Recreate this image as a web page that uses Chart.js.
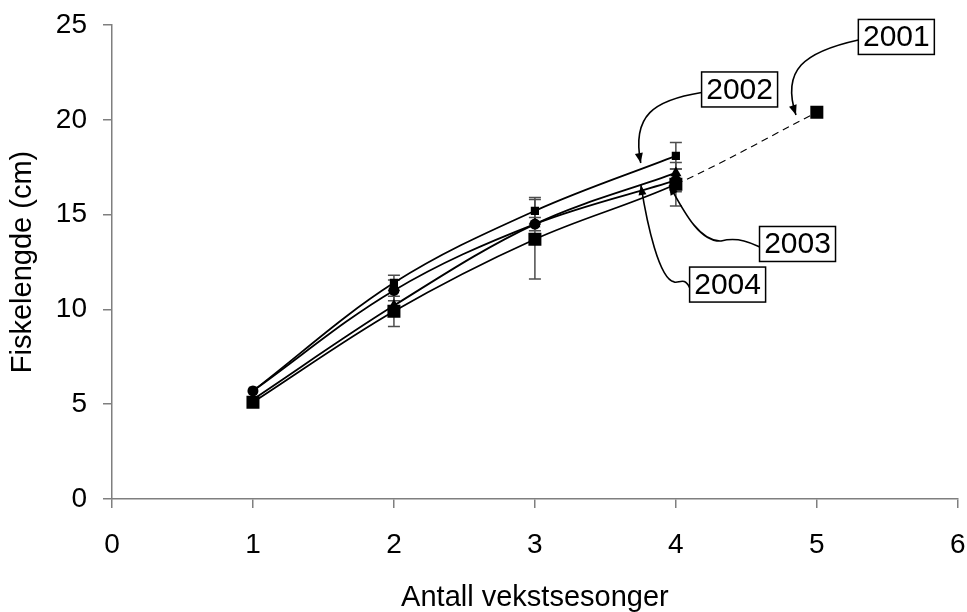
<!DOCTYPE html>
<html>
<head>
<meta charset="utf-8">
<script src="https://cdn.jsdelivr.net/npm/chart.js@4/dist/chart.umd.min.js"></script>
<style>
    html, body { margin: 0; padding: 0; background: #fff; }
    #wrap { width: 967px; height: 612px; }
</style>
</head>
<body>
<div id="wrap"><canvas id="chartGrowth" width="967" height="612"></canvas></div>
<script>
// fish length (cm) after each growing season, one array per year class
const seasons = [1, 2, 3, 4, 5];
const len2001 = [5.1, 9.9, 13.7, 16.6, 20.4];
const err2001 = [0, 0.8, 2.1, 1.15, 0];
const len2002 = [5.7, 11.4, 15.2, 18.1];
const err2002 = [0, 0.4, 0.7, 0.7];
const len2003 = [5.25, 10.2, 14.5, 17.2];
const err2003 = [0, 0, 0, 0];
const len2004 = [5.7, 11.0, 14.5, 16.8];
const err2004 = [0, 0.55, 0.35, 0.6];

const FONT = '"Liberation Sans", Arial, sans-serif';

const points = (vals) => vals.map((v, i) => ({x: seasons[i], y: v}));

const base = {
    borderColor: '#000',
    backgroundColor: '#000',
    borderWidth: 1.8,
    pointBorderColor: '#000',
    pointBackgroundColor: '#000',
    pointBorderWidth: 0,
    tension: 0.35,
    fill: false,
};

// arrow labels, positioned in data units so the tips land on the lines
const yearNotes = [
    {text: '2001', box: [5.564, 24.37], segs: [[[4.909, 23.58], [4.746, 22.63], [4.852, 20.25]]]},
    {text: '2002', box: [4.452, 21.60], segs: [[[3.846, 21.04], [3.684, 20.25], [3.751, 17.72]]]},
    {text: '2003', box: [4.863, 13.45], segs: [
        [[4.55, 13.45], [4.45, 13.85], [4.321, 13.61]],
        [[4.165, 13.55], [4.052, 15.24], [3.953, 16.56]]]},
    {text: '2004', box: [4.367, 11.31], segs: [
        [[4.06, 11.75], [4.02, 11.35], [3.988, 11.45]],
        [[3.882, 11.60], [3.797, 14.45], [3.752, 16.56]]]},
];

const errorBars = {
    id: 'errorBars',
    beforeDatasetsDraw(chart) {
        const {ctx, scales: {x, y}} = chart;
        ctx.save();
        ctx.strokeStyle = '#4d4d4d';
        ctx.lineWidth = 1.5;
        chart.data.datasets.forEach(ds => {
            (ds.errors || []).forEach((e, i) => {
                if (!e) return;
                const px = x.getPixelForValue(ds.data[i].x);
                const top = y.getPixelForValue(ds.data[i].y + e);
                const bot = y.getPixelForValue(ds.data[i].y - e);
                ctx.beginPath();
                ctx.moveTo(px, top); ctx.lineTo(px, bot);
                ctx.moveTo(px - 6, top); ctx.lineTo(px + 6, top);
                ctx.moveTo(px - 6, bot); ctx.lineTo(px + 6, bot);
                ctx.stroke();
            });
        });
        ctx.restore();
    }
};

const yearLabels = {
    id: 'yearLabels',
    afterDraw(chart) {
        const {ctx, scales: {x, y}} = chart;
        const P = (p) => [x.getPixelForValue(p[0]), y.getPixelForValue(p[1])];
        const w = 76, h = 35;
        ctx.save();
        yearNotes.forEach(n => {
            const [cx, cy] = P(n.box);
            // curved leader
            ctx.strokeStyle = '#000';
            ctx.lineWidth = 1.6;
            ctx.beginPath();
            ctx.moveTo(cx - w / 2, cy + 3);
            let prev = null, tip = null;
            n.segs.forEach(s => {
                const a = P(s[0]), b = P(s[1]), c = P(s[2]);
                ctx.bezierCurveTo(a[0], a[1], b[0], b[1], c[0], c[1]);
                prev = b; tip = c;
            });
            ctx.stroke();
            // arrow head
            const ang = Math.atan2(tip[1] - prev[1], tip[0] - prev[0]);
            ctx.fillStyle = '#000';
            ctx.beginPath();
            ctx.moveTo(tip[0], tip[1]);
            ctx.lineTo(tip[0] - 10 * Math.cos(ang) + 4 * Math.sin(ang), tip[1] - 10 * Math.sin(ang) - 4 * Math.cos(ang));
            ctx.lineTo(tip[0] - 10 * Math.cos(ang) - 4 * Math.sin(ang), tip[1] - 10 * Math.sin(ang) + 4 * Math.cos(ang));
            ctx.closePath();
            ctx.fill();
            // box + text
            ctx.fillStyle = '#fff';
            ctx.fillRect(cx - w / 2, cy - h / 2, w, h);
            ctx.strokeStyle = '#000';
            ctx.lineWidth = 1.5;
            ctx.strokeRect(cx - w / 2, cy - h / 2, w, h);
            ctx.fillStyle = '#000';
            ctx.font = '30px ' + FONT;
            ctx.textAlign = 'center';
            ctx.textBaseline = 'middle';
            ctx.fillText(n.text, cx, cy + 1);
        });
        ctx.restore();
    }
};

const data = {
    datasets: [
        {
            ...base,
            label: '2002',
            data: points(len2002),
            errors: err2002,
            pointStyle: 'rect',
            pointRadius: 5.8,
        },
        {
            ...base,
            label: '2003',
            data: points(len2003),
            errors: err2003,
            pointStyle: 'triangle',
            pointRadius: 6.5,
        },
        {
            ...base,
            label: '2004',
            data: points(len2004),
            errors: err2004,
            pointStyle: 'circle',
            pointRadius: 5.5,
        },
        {
            ...base,
            label: '2001',
            data: points(len2001),
            errors: err2001,
            pointStyle: 'rect',
            pointRadius: 9.2,
            segment: {
                // last season only from one year class: dashed, thin
                borderDash: c => c.p0DataIndex === 3 ? [7, 5] : undefined,
                borderWidth: c => c.p0DataIndex === 3 ? 1.1 : undefined,
            },
        },
    ]
};

const axisColor = '#7f7f7f';

const config = {
    type: 'line',
    data,
    options: {
        responsive: false,
        animation: false,
        layout: {padding: {top: 25, right: 8, left: 0, bottom: 0}},
        scales: {
            x: {
                type: 'linear',
                min: 0,
                max: 6,
                afterFit: (scale) => {
                    scale.height = 113;
                    scale.paddingLeft = 0;
                    scale.paddingRight = 0;
                },
                ticks: {stepSize: 1, padding: 20, color: '#000', font: {family: FONT, size: 28}},
                grid: {drawOnChartArea: false, drawTicks: true, tickLength: 9, color: axisColor, lineWidth: 1.5},
                border: {color: axisColor, width: 1.5},
                title: {display: true, text: 'Antall vekstsesonger', color: '#000',
                    font: {family: FONT, size: 29, lineHeight: 1}, padding: {top: 0, bottom: 0}},
            },
            y: {
                min: 0,
                max: 25,
                afterFit: (scale) => {
                    scale.width = 112;
                    scale.paddingTop = 0;
                    scale.paddingBottom = 0;
                },
                ticks: {stepSize: 5, padding: 16, color: '#000', font: {family: FONT, size: 28}},
                grid: {drawOnChartArea: false, drawTicks: true, tickLength: 9, color: axisColor, lineWidth: 1.5},
                border: {color: axisColor, width: 1.5},
                title: {display: true, text: 'Fiskelengde (cm)', color: '#000',
                    font: {family: FONT, size: 29, lineHeight: 1}, padding: {top: 8, bottom: 0}},
            }
        },
        plugins: {
            legend: {display: false},
            tooltip: {enabled: false},
        },
    },
    plugins: [errorBars, yearLabels],
};

const chartGrowth = new Chart(document.getElementById('chartGrowth'), config);
</script>
</body>
</html>
